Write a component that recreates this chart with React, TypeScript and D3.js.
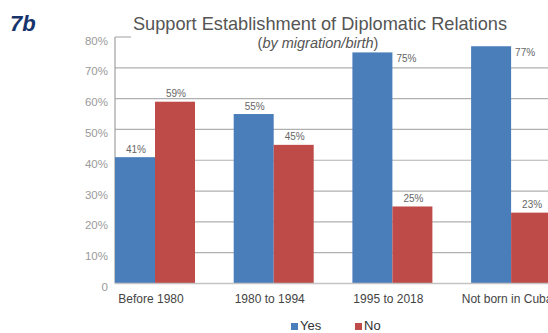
import React from "react";
import * as d3 from "d3";

const categories = ["Before 1980", "1980 to 1994", "1995 to 2018", "Not born in Cuba"];
const seriesNames = ["Yes", "No"];
const yesValues = [41, 55, 75, 77];
const noValues = [59, 45, 25, 23];
const yTicks = [0, 10, 20, 30, 40, 50, 60, 70, 80];

const COLORS = ["#4a7ebb", "#be4b48"];
const FONT = "'Liberation Sans', Arial, Helvetica, sans-serif";

export default function App() {
  const W = 548, H = 333;
  const x0 = 115;
  const step = 118.7;
  const y = d3.scaleLinear().domain([0, 80]).range([283.5, 37]);
  const groupX = (c: string) => x0 + categories.indexOf(c) * step;
  const groupW = 80;
  const xSub = d3.scaleBand<string>().domain(seriesNames).range([0, groupW]);
  const series = [yesValues, noValues];

  return (
    <div style={{ position: "absolute", left: 0, top: 0 }}>
      <svg width={W} height={H} style={{ display: "block" }}>
        <rect width={W} height={H} fill="#fff" />
        {yTicks.filter((t) => t > 0).map((t) => (
          <line
            key={t}
            x1={x0}
            x2={t === 80 ? x0 + 16 : W}
            y1={y(t)}
            y2={y(t)}
            stroke="#b0b0b0"
            strokeWidth={1.2}
          />
        ))}
        <line x1={x0} x2={x0} y1={y(80)} y2={y(0)} stroke="#a0a0a0" strokeWidth={1.2} />
        {yTicks.map((t) => (
          <text
            key={t}
            x={108}
            y={y(t) + 7.5}
            textAnchor="end"
            fontFamily={FONT}
            fontSize={11.5}
            fill="#9a9a9a"
          >
            {t === 0 ? "0" : `${t}%`}
          </text>
        ))}
        {categories.map((c, i) =>
          series.map((vals, s) => {
            const bx = groupX(c) + (xSub(seriesNames[s]) ?? 0);
            const bw = xSub.bandwidth();
            const v = vals[i];
            const top = y(v);
            const outside = v > 70;
            return (
              <g key={c + s}>
                <rect x={bx} y={top} width={bw} height={y(0) - top} fill={COLORS[s]} />
                <text
                  x={outside ? bx + bw + 4 : bx + bw / 2 + 1}
                  y={outside ? top + 9.5 : top - 4.5}
                  textAnchor={outside ? "start" : "middle"}
                  fontFamily={FONT}
                  fontSize={10}
                  fill="#666"
                >
                  {`${v}%`}
                </text>
              </g>
            );
          })
        )}
        <line x1={x0} x2={W} y1={y(0)} y2={y(0)} stroke="#c4c4c4" strokeWidth={1.5} />
        {categories.map((c) => (
          <text
            key={c}
            x={groupX(c) + groupW / 2 - 4}
            y={303}
            textAnchor="middle"
            fontFamily={FONT}
            fontSize={12}
            fill="#444"
          >
            {c}
          </text>
        ))}
        <text x={320} y={30} textAnchor="middle" fontFamily={FONT} fontSize={18.2} fill="#555">
          Support Establishment of Diplomatic Relations
        </text>
        <text x={318} y={48} textAnchor="middle" fontFamily={FONT} fontSize={14.5} fill="#555">
          (<tspan fontStyle="italic">by migration/birth</tspan>)
        </text>
        <text x={10} y={31} fontFamily={FONT} fontSize={22} fontWeight="bold" fontStyle="italic" fill="#17346b">
          7b
        </text>
        {seriesNames.map((n, i) => (
          <g key={n} transform={`translate(${291 + i * 64},0)`}>
            <rect x={0} y={323} width={7} height={7} fill={COLORS[i]} />
            <text x={9} y={330} fontFamily={FONT} fontSize={13} fill="#333">
              {n}
            </text>
          </g>
        ))}
      </svg>
    </div>
  );
}
